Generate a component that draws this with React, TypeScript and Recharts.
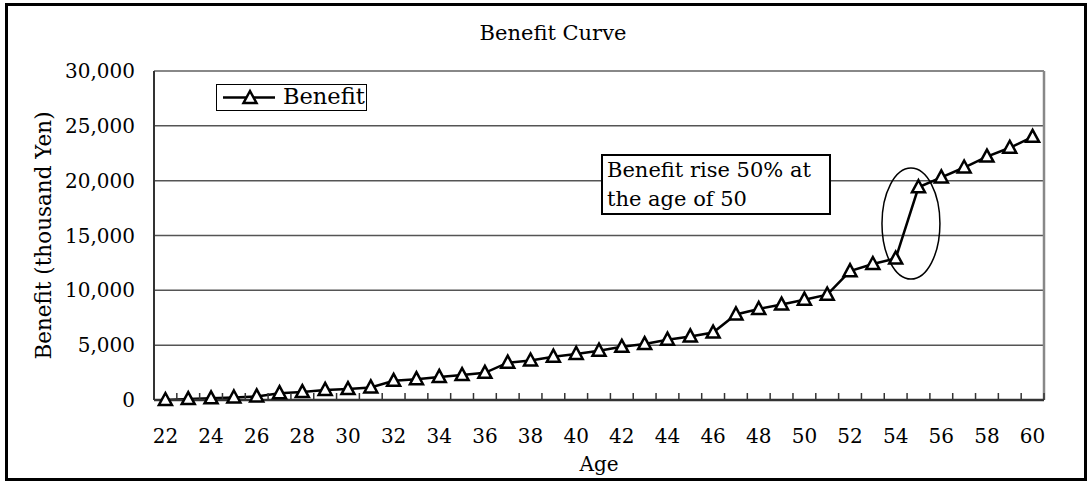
import React from 'react';
import {
  CartesianGrid,
  Label,
  Line,
  LineChart,
  ReferenceArea,
  ReferenceLine,
  XAxis,
  YAxis,
} from 'recharts';

const ages = [
  22, 23, 24, 25, 26, 27, 28, 29, 30, 31, 32, 33, 34, 35, 36, 37, 38, 39, 40,
  41, 42, 43, 44, 45, 46, 47, 48, 49, 50, 51, 52, 53, 54, 55, 56, 57, 58, 59, 60,
];
const benefit = [
  0, 80, 150, 230, 330, 620, 720, 920, 1000, 1150, 1750, 1900, 2100, 2270, 2480,
  3400, 3600, 3950, 4200, 4500, 4850, 5100, 5500, 5800, 6150, 7800, 8300, 8700,
  9150, 9600, 11750, 12400, 12900, 19400, 20300, 21200, 22200, 23000, 24000,
];
const xLabels = [22, 24, 26, 28, 30, 32, 34, 36, 38, 40, 42, 44, 46, 48, 50, 52, 54, 56, 58, 60];
const yTicks = [0, 5000, 10000, 15000, 20000, 25000, 30000];

const FONT = '"DejaVu Serif", serif';

const data = ages.map((age, i) => ({ age, benefit: benefit[i] }));
// tick marks sit on the category boundaries, labels on every other category
const boundaries = [...ages.map((a) => a - 0.5), ages[ages.length - 1] + 0.5];
const xTicks = [...boundaries, ...xLabels].sort((a, b) => a - b);

function Triangle(props: any) {
  const { cx, cy } = props;
  if (cx == null || cy == null) return null;
  return (
    <path
      d={`M${cx},${cy - 7} L${cx + 6.5},${cy + 5} L${cx - 6.5},${cy + 5} Z`}
      fill="#fff"
      stroke="#000"
      strokeWidth={2.5}
      strokeLinejoin="miter"
    />
  );
}

function AgeTick(props: any) {
  const { x, y, payload } = props;
  const v = payload.value;
  if (!Number.isInteger(v)) {
    return <line x1={x} x2={x} y1={y - 7} y2={y} stroke="#333" strokeWidth={1.5} />;
  }
  return (
    <text x={x} y={y + 43} textAnchor="middle" fontFamily={FONT} fontSize={20} fill="#000">
      {v}
    </text>
  );
}

export default function App() {
  return (
    <div style={{ position: 'absolute', left: 0, top: 0, width: 1091, height: 482, background: '#fff' }}>
      <div
        style={{
          position: 'absolute',
          left: 5,
          top: 3,
          width: 1076,
          height: 472,
          border: '3px solid #000',
        }}
      />
      <div
        style={{
          position: 'absolute',
          left: 453,
          width: 200,
          top: 19,
          textAlign: 'center',
          fontFamily: FONT,
          fontSize: 21,
          lineHeight: '28px',
        }}
      >
        Benefit Curve
      </div>
      <LineChart
        width={1091}
        height={482}
        data={data}
        margin={{ top: 71, right: 47, bottom: 0, left: 0 }}
        style={{ position: 'absolute', left: 0, top: 0 }}
      >
        <CartesianGrid vertical={false} stroke="#555" strokeWidth={1.5} />
        <XAxis
          dataKey="age"
          type="number"
          domain={[21.5, 60.5]}
          ticks={xTicks}
          interval={0}
          height={82}
          tickSize={0}
          tickMargin={0}
          tickLine={false}
          tick={<AgeTick />}
          axisLine={{ stroke: '#333', strokeWidth: 2.5 }}
        >
          <Label
            content={(p: any) => {
              const vb = p.viewBox;
              return (
                <text x={vb.x + vb.width / 2} y={vb.y + 71} textAnchor="middle" fontFamily={FONT} fontSize={20} fill="#000">
                  Age
                </text>
              );
            }}
          />
        </XAxis>
        <YAxis
          domain={[0, 30000]}
          ticks={yTicks}
          width={154}
          tickSize={0}
          tickMargin={19}
          tickLine={false}
          tickFormatter={(v) => v.toLocaleString('en-US')}
          tick={{ fontFamily: FONT, fontSize: 20, fill: '#000' }}
          axisLine={{ stroke: '#333', strokeWidth: 2 }}
        >
          <Label
            content={(p: any) => {
              const vb = p.viewBox;
              const cy = vb.y + vb.height / 2;
              return (
                <text
                  x={43}
                  y={cy}
                  transform={`rotate(-90 43 ${cy})`}
                  textAnchor="middle"
                  dominantBaseline="central"
                  fontFamily={FONT}
                  fontSize={21.5}
                  fill="#000"
                >
                  Benefit (thousand Yen)
                </text>
              );
            }}
          />
        </YAxis>
        <ReferenceLine y={30000} stroke="#888" strokeWidth={2} />
        <ReferenceLine x={60.5} stroke="#888" strokeWidth={2.5} />
        <ReferenceArea
          x1={53.4}
          x2={55.94}
          y1={11030}
          y2={21150}
          shape={(p: any) => (
            <ellipse
              cx={p.x + p.width / 2}
              cy={p.y + p.height / 2}
              rx={Math.abs(p.width) / 2}
              ry={Math.abs(p.height) / 2}
              fill="none"
              stroke="#000"
              strokeWidth={1.5}
            />
          )}
        />
        <Line
          dataKey="benefit"
          stroke="#000"
          strokeWidth={2.5}
          dot={<Triangle />}
          activeDot={false}
          isAnimationActive={false}
        />
      </LineChart>
      {/* legend */}
      <div
        style={{
          position: 'absolute',
          left: 216,
          top: 84,
          width: 149,
          height: 25,
          border: '1.5px solid #000',
          background: '#fff',
          fontFamily: FONT,
          fontSize: 22.5,
        }}
      >
        <svg width={60} height={25} style={{ position: 'absolute', left: 0, top: 0 }}>
          <line x1={6} x2={58} y1={12.5} y2={12.5} stroke="#000" strokeWidth={2.5} />
          <Triangle cx={33} cy={13} />
        </svg>
        <span style={{ position: 'absolute', left: 66, top: -1, lineHeight: '25px' }}>Benefit</span>
      </div>
      {/* annotation */}
      <div
        style={{
          position: 'absolute',
          left: 601,
          top: 154,
          width: 222,
          height: 57,
          border: '2px solid #000',
          background: '#fff',
          fontFamily: FONT,
          fontSize: 21,
          lineHeight: '29px',
          paddingLeft: 4,
          boxSizing: 'content-box',
        }}
      >
        Benefit rise 50% at
        <br />
        the age of 50
      </div>
    </div>
  );
}
